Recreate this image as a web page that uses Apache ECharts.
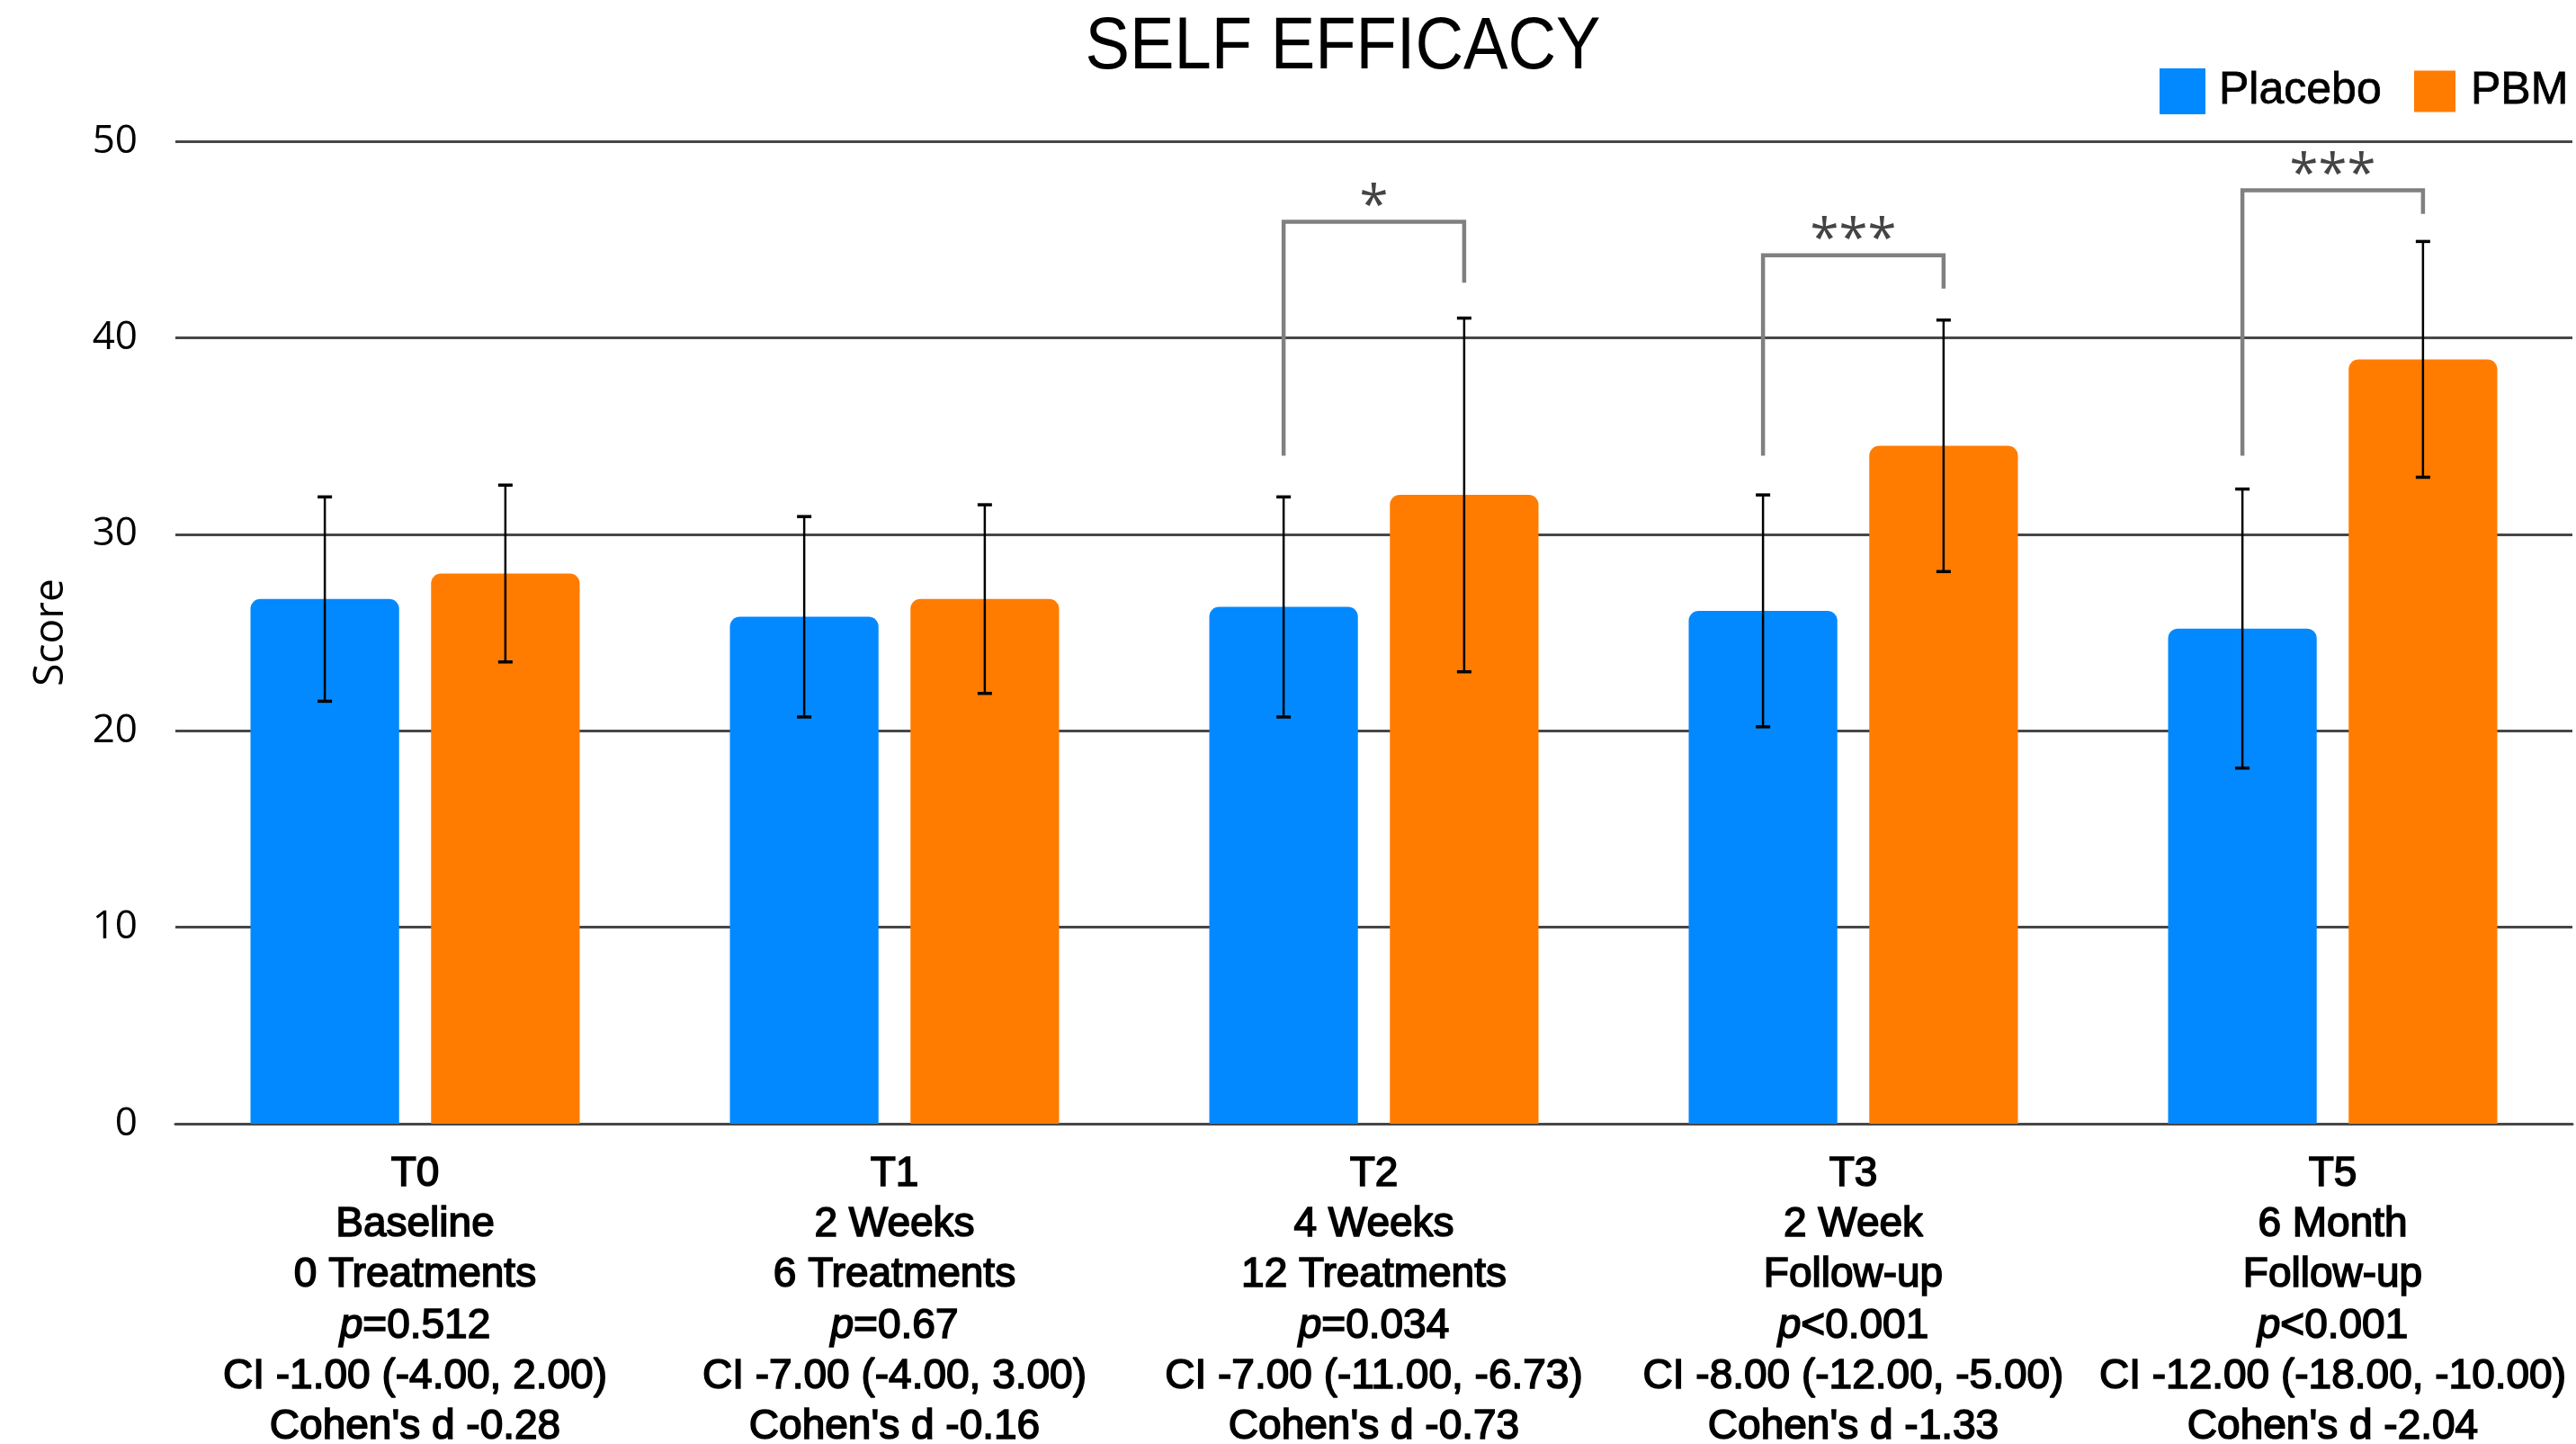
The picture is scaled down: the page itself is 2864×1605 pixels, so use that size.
<!DOCTYPE html>
<html>
<head>
<meta charset="utf-8">
<script src="https://cdn.jsdelivr.net/npm/echarts@6/dist/echarts.min.js"></script>
<style>
  html, body { margin: 0; padding: 0; background: #ffffff; }
  #chart { width: 2864px; height: 1605px; }
</style>
</head>
<body>
<div id="chart"></div>
<script>
// Time points and their descriptive label lines
const timepoints = ['T0', 'T1', 'T2', 'T3', 'T5'];
const periods = ['Baseline', '2 Weeks', '4 Weeks', '2 Week', '6 Month'];
const sessions = ['0 Treatments', '6 Treatments', '12 Treatments', 'Follow-up', 'Follow-up'];
const pValues = ['=0.512', '=0.67', '=0.034', '<0.001', '<0.001'];
const ciValues = [
  'CI -1.00 (-4.00, 2.00)',
  'CI -7.00 (-4.00, 3.00)',
  'CI -7.00 (-11.00, -6.73)',
  'CI -8.00 (-12.00, -5.00)',
  'CI -12.00 (-18.00, -10.00)'
];
const cohensD = ["Cohen's d -0.28", "Cohen's d -0.16", "Cohen's d -0.73", "Cohen's d -1.33", "Cohen's d -2.04"];

// Mean self-efficacy scores and error half-widths
const placeboMean = [26.7, 25.8, 26.3, 26.1, 25.2];
const placeboErr  = [5.2, 5.1, 5.6, 5.9, 7.1];
const pbmMean     = [28.0, 26.7, 32.0, 34.5, 38.9];
const pbmErr      = [4.5, 4.8, 9.0, 6.4, 6.0];

// Significance brackets: category, placebo arm end, bracket top, PBM arm end, stars
const bracketCats  = [2, 3, 4];
const bracketLeft  = [34.0, 34.0, 34.0];
const bracketTop   = [45.9, 44.2, 47.5];
const bracketRight = [42.8, 42.5, 46.3];
const bracketStars = ['*', '***', '***'];

// Score axis ticks
const yMin = 0, yMax = 50, yStep = 10;

const BLUE = '#0389FF';
const ORANGE = '#FF7C00';
const GRID = '#474747';
const BAR_FRAC = 0.31;
const GAP_FRAC = 0.215;

const chart = echarts.init(document.getElementById('chart'));

function errorBars(means, errs, side) {
  return {
    type: 'custom',
    silent: true,
    z: 5,
    encode: { x: 0, y: [1, 2] },
    data: means.map((m, i) => [i, m - errs[i], m + errs[i]]),
    renderItem(params, api) {
      const band = api.size([1, 0])[0];
      const off = side * band * BAR_FRAC * (1 + GAP_FRAC) / 2;
      const lo = api.coord([api.value(0), api.value(1)]);
      const hi = api.coord([api.value(0), api.value(2)]);
      const x = lo[0] + off;
      const cap = 8;
      const st = { stroke: '#000', lineWidth: 2.5 };
      return {
        type: 'group',
        children: [
          { type: 'line', shape: { x1: x, y1: hi[1], x2: x, y2: lo[1] }, style: st },
          { type: 'line', shape: { x1: x - cap, y1: hi[1], x2: x + cap, y2: hi[1] }, style: { stroke: '#000', lineWidth: 3.5 } },
          { type: 'line', shape: { x1: x - cap, y1: lo[1], x2: x + cap, y2: lo[1] }, style: { stroke: '#000', lineWidth: 3.5 } }
        ]
      };
    }
  };
}

const bracketSeries = {
  type: 'custom',
  silent: true,
  z: 6,
  encode: { x: 0, y: [1, 2, 3] },
  data: bracketCats.map((c, i) => [c, bracketLeft[i], bracketTop[i], bracketRight[i]]),
  renderItem(params, api) {
    const band = api.size([1, 0])[0];
    const off = band * BAR_FRAC * (1 + GAP_FRAC) / 2;
    const c = api.value(0);
    const pl = api.coord([c, api.value(1)]);
    const pt = api.coord([c, api.value(2)]);
    const pr = api.coord([c, api.value(3)]);
    const xl = pl[0] - off, xr = pl[0] + off;
    return {
      type: 'group',
      children: [
        {
          type: 'polyline',
          shape: { points: [[xl, pl[1]], [xl, pt[1]], [xr, pt[1]], [xr, pr[1]]] },
          style: { stroke: '#808080', lineWidth: 4.5, fill: null, lineJoin: 'miter' }
        },
        {
          type: 'text',
          x: pl[0],
          y: pt[1] - 15,
          style: {
            text: bracketStars[params.dataIndex],
            font: '58px "Open Sans"',
            fill: '#444444',
            textAlign: 'center',
            textVerticalAlign: 'middle'
          }
        }
      ]
    };
  }
};

const labelBase = {
  fontFamily: 'Liberation Sans',
  fontSize: 46,
  lineHeight: 56.3,
  color: '#000',
  textBorderColor: '#000',
  textBorderWidth: 1.6
};

const option = {
  backgroundColor: '#ffffff',
  animation: false,
  graphic: [{
    type: 'text',
    x: 1493,
    y: 53,
    scaleX: 0.905,
    style: {
      text: 'SELF EFFICACY',
      font: '82px "Liberation Sans"',
      fill: '#000',
      textAlign: 'center',
      textVerticalAlign: 'middle'
    }
  }],
  legend: [
    {
      data: ['Placebo'], left: 2401, top: 76, padding: 0,
      itemWidth: 51, itemHeight: 51, icon: 'rect',
      textStyle: { fontFamily: 'Liberation Sans', fontSize: 50, lineHeight: 51, color: '#000', padding: [0, 0, 0, 10], textBorderColor: '#000', textBorderWidth: 0.8 }
    },
    {
      data: ['PBM'], left: 2684, top: 76, padding: 0,
      itemWidth: 46, itemHeight: 46, icon: 'rect',
      textStyle: { fontFamily: 'Liberation Sans', fontSize: 50, lineHeight: 51, color: '#000', padding: [0, 0, 0, 12], textBorderColor: '#000', textBorderWidth: 0.8 }
    }
  ],
  grid: { left: 195, right: 4, top: 157, bottom: 356, containLabel: false, outerBoundsMode: 'none' },
  xAxis: {
    type: 'category',
    data: timepoints,
    axisTick: { show: false },
    axisLine: { show: true, lineStyle: { color: GRID, width: 3 } },
    axisLabel: {
      interval: 0,
      margin: 28,
      ...labelBase,
      formatter: (value, idx) => [
        '{t|' + value + '}',
        '{t|' + periods[idx] + '}',
        '{t|' + sessions[idx] + '}',
        '{i|p}{t|' + pValues[idx] + '}',
        '{t|' + ciValues[idx] + '}',
        '{t|' + cohensD[idx] + '}'
      ].join('\n'),
      rich: {
        t: { ...labelBase },
        i: { ...labelBase, fontStyle: 'italic' }
      }
    }
  },
  yAxis: {
    type: 'value',
    min: yMin,
    max: yMax,
    interval: yStep,
    name: 'Score',
    nameLocation: 'middle',
    nameGap: 115,
    nameTextStyle: { fontFamily: 'Open Sans', fontSize: 46, color: '#000' },
    axisLine: { show: false },
    axisTick: { show: false },
    axisLabel: { fontFamily: 'Open Sans', fontSize: 44, color: '#000', margin: 42 },
    splitLine: { show: true, lineStyle: { color: GRID, width: 3 } }
  },
  series: [
    {
      name: 'Placebo',
      type: 'bar',
      data: placeboMean,
      barWidth: (BAR_FRAC * 100) + '%',
      barGap: (GAP_FRAC * 100) + '%',
      itemStyle: { color: BLUE, borderRadius: [11, 11, 0, 0] },
      z: 2
    },
    {
      name: 'PBM',
      type: 'bar',
      data: pbmMean,
      barWidth: (BAR_FRAC * 100) + '%',
      barGap: (GAP_FRAC * 100) + '%',
      itemStyle: { color: ORANGE, borderRadius: [11, 11, 0, 0] },
      z: 2
    },
    errorBars(placeboMean, placeboErr, -1),
    errorBars(pbmMean, pbmErr, 1),
    bracketSeries
  ]
};

chart.setOption(option);
</script>
</body>
</html>
